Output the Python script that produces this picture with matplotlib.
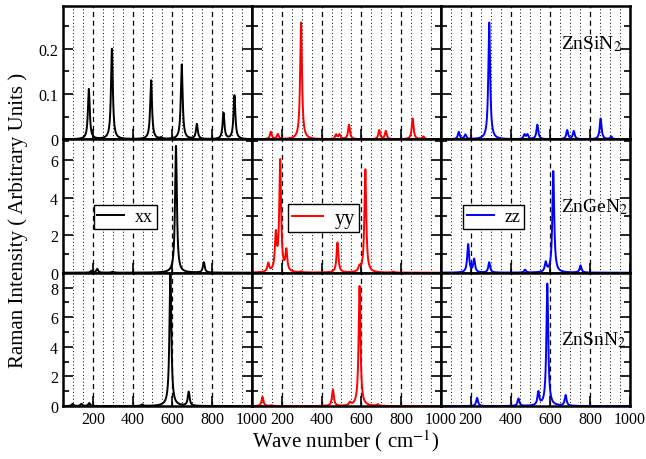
import numpy as np
import matplotlib
matplotlib.use("Agg")
from matplotlib import pyplot as plt
from matplotlib.ticker import MultipleLocator

plt.rcParams['font.family'] = ['Liberation Serif', 'DejaVu Serif']
plt.rcParams['mathtext.fontset'] = 'stix'

# ---- data: Raman mode positions (cm-1) and intensities ----
compounds = ["ZnSiN$_2$", "ZnGeN$_2$", "ZnSnN$_2$"]
components = ["xx", "yy", "zz"]
colors = ["black", "red", "blue"]

# ZnSiN2
si_xx_pos = [180, 296, 493, 543, 647, 723, 857, 912]
si_xx_int = [0.111, 0.2, 0.13, 0.003, 0.165, 0.033, 0.058, 0.097]
si_yy_pos = [145, 180, 297, 473, 490, 538, 690, 723, 858, 912]
si_yy_int = [0.016, 0.011, 0.258, 0.01, 0.01, 0.032, 0.02, 0.018, 0.046, 0.006]
si_zz_pos = [140, 173, 293, 470, 485, 535, 685, 718, 853, 906]
si_zz_int = [0.016, 0.01, 0.258, 0.01, 0.01, 0.032, 0.02, 0.018, 0.046, 0.006]

# ZnGeN2
ge_xx_pos = [193, 222, 300, 618, 758]
ge_xx_int = [0.1, 0.2, 0.05, 6.75, 0.55]
ge_yy_pos = [132, 170, 192, 223, 298, 480, 590, 620, 760]
ge_yy_int = [0.45, 1.9, 5.9, 1.1, 0.05, 1.6, 0.25, 5.5, 0.05]
ge_zz_pos = [187, 217, 293, 473, 577, 615, 752]
ge_zz_int = [1.5, 0.7, 0.55, 0.15, 0.5, 5.4, 0.38]

# ZnSnN2
sn_xx_pos = [98, 143, 182, 448, 590, 682]
sn_xx_int = [0.15, 0.15, 0.2, 0.1, 9.3, 0.95]
sn_yy_pos = [103, 148, 457, 543, 591, 682]
sn_yy_int = [0.62, 0.05, 1.1, 0.2, 8.1, 0.1]
sn_zz_pos = [232, 440, 540, 585, 677]
sn_zz_int = [0.55, 0.5, 0.9, 8.25, 0.72]

peaks = [
    [(si_xx_pos, si_xx_int), (si_yy_pos, si_yy_int), (si_zz_pos, si_zz_int)],
    [(ge_xx_pos, ge_xx_int), (ge_yy_pos, ge_yy_int), (ge_zz_pos, ge_zz_int)],
    [(sn_xx_pos, sn_xx_int), (sn_yy_pos, sn_yy_int), (sn_zz_pos, sn_zz_int)],
]

row_ylim = [0.295, 7.1, 9.0]
row_major = [0.1, 2, 2]
row_minor = [0.05, 1, 1]
hwhm = 5.5  # lorentzian broadening

x = np.linspace(50, 1000, 4000)


def spectrum(pos, inten):
    y = np.zeros_like(x)
    for p, a in zip(pos, inten):
        y += a * hwhm**2 / ((x - p)**2 + hwhm**2)
    return y


fig = plt.figure(figsize=(6.46, 4.60), dpi=100)
gs = fig.add_gridspec(3, 3, left=0.0975, right=0.975, bottom=0.115, top=0.985,
                      hspace=0, wspace=0)

# legend centre (axes fraction) and font size for the middle row
legend_spots = [(0.33, 0.42, 13), (0.38, 0.41, 14.5), (0.28, 0.42, 13)]

for r in range(3):
    for c in range(3):
        ax = fig.add_subplot(gs[r, c])
        pos, inten = peaks[r][c]
        ax.plot(x, spectrum(pos, inten), color=colors[c], lw=1.4, label=components[c])
        ax.set_xlim(50, 1000)
        ax.set_ylim(0, row_ylim[r])

        ax.xaxis.set_major_locator(MultipleLocator(200))
        ax.xaxis.set_minor_locator(MultipleLocator(50))
        ax.yaxis.set_major_locator(MultipleLocator(row_major[r]))
        ax.yaxis.set_minor_locator(MultipleLocator(row_minor[r]))
        ax.grid(which='major', axis='x', color='black', ls=(0, (4, 3)), lw=0.9)
        ax.grid(which='minor', axis='x', color='black', ls=(0, (1, 2.5)), lw=0.7)
        ax.set_axisbelow(True)

        ax.tick_params(which='both', direction='in', left=True, right=True,
                       top=False, bottom=True, labelsize=11.5, width=1.2)
        ax.tick_params(which='major', length=7)
        ax.tick_params(which='minor', length=4)
        ax.tick_params(axis='x', which='minor', length=0)
        for s in ax.spines.values():
            s.set_linewidth(1.8)

        if c != 0:
            ax.set_yticklabels([])
        else:
            if r == 0:
                ax.set_yticks([0, 0.1, 0.2])
                ax.set_yticklabels(["0", "0.1", "0.2"])
        if r != 2:
            ax.set_xticklabels([])

        if c == 2:
            ax.text(652, row_ylim[r] * [0.72, 0.5, 0.5][r], compounds[r],
                    fontsize=14, va='center', ha='left')
        if r == 1:
            lx, ly, fs = legend_spots[c]
            leg = ax.legend(loc='center', bbox_to_anchor=(lx, ly), fontsize=fs,
                            fancybox=False, framealpha=1, handlelength=1.5,
                            borderpad=0.2, handletextpad=0.6, borderaxespad=0)
            leg.get_frame().set_edgecolor('black')
            leg.get_frame().set_linewidth(1.0)

fig.text(0.028, 0.52, "Raman Intensity ( Arbitrary Units )", rotation=90,
         ha='center', va='center', fontsize=15)
fig.text(0.535, 0.04, "Wave number ( cm$^{-1}$)", ha='center', va='center', fontsize=15)

plt.savefig("out.png", dpi=100)
